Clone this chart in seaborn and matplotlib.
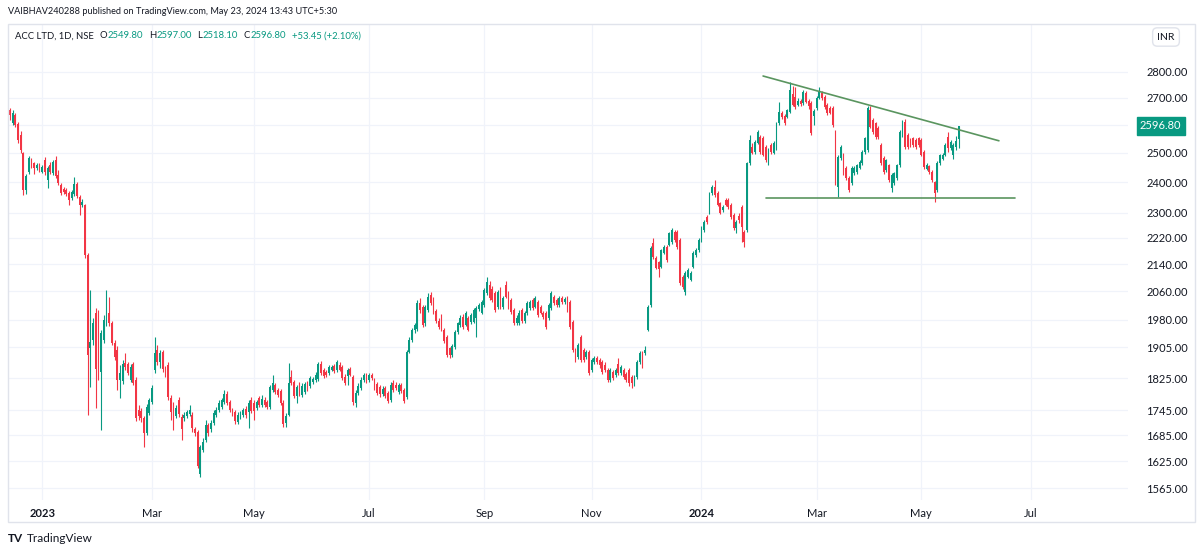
import numpy as np
import pandas as pd
import matplotlib
matplotlib.use("Agg")
import matplotlib.pyplot as plt
import seaborn as sns
from matplotlib import transforms, font_manager
from matplotlib.patches import Rectangle
from matplotlib.ticker import FixedLocator, FixedFormatter, NullLocator

# ---------------- data ----------------
holidays = ['2023-01-26', '2023-03-07', '2023-03-30', '2023-04-04', '2023-04-07', '2023-04-14',
            '2023-05-01', '2023-06-28', '2023-08-15', '2023-09-19', '2023-10-02', '2023-10-24',
            '2023-11-14', '2023-11-27', '2023-12-25', '2024-01-22', '2024-01-26', '2024-03-08',
            '2024-03-25', '2024-03-29', '2024-04-11', '2024-04-17', '2024-05-01', '2024-05-20']
special_sessions = ['2023-11-12', '2024-01-20', '2024-03-02']

opens = [
    2655, 2607, 2636, 2604, 2564, 2500, 2374, 2434, 2476, 2465,
    2448, 2458, 2434, 2476, 2408, 2458, 2431, 2476, 2424, 2391,
    2377, 2374, 2364, 2347, 2361, 2394, 2351, 2325, 2325, 2168,
    1903, 1925, 1999, 2002, 1840, 1925, 1971, 1999, 1971, 1917,
    1898, 1820, 1817, 1864, 1861, 1820, 1861, 1820, 1745, 1742,
    1726, 1690, 1738, 1765, 1845, 1898, 1866, 1893, 1848, 1858,
    1775, 1760, 1730, 1770, 1728, 1726, 1730, 1735, 1733, 1699,
    1692, 1596, 1650, 1673, 1709, 1699, 1714, 1733, 1745, 1752,
    1765, 1785, 1765, 1745, 1740, 1716, 1728, 1733, 1747, 1740,
    1770, 1762, 1750, 1775, 1757, 1770, 1765, 1752, 1795, 1807,
    1795, 1792, 1762, 1714, 1733, 1828, 1815, 1780, 1802, 1782,
    1790, 1810, 1805, 1815, 1820, 1823, 1861, 1845, 1840, 1838,
    1845, 1856, 1845, 1858, 1853, 1828, 1830, 1848, 1828, 1762,
    1787, 1800, 1820, 1833, 1820, 1833, 1820, 1810, 1802, 1785,
    1800, 1787, 1770, 1812, 1807, 1790, 1807, 1795, 1777, 1893,
    1924, 1951, 1955, 2027, 2016, 1970, 2008, 2050, 2038, 2005,
    1976, 1990, 1952, 1933, 1903, 1885, 1906, 1946, 1966, 1988,
    1966, 1985, 1974, 1974, 1985, 2010, 1999, 2021, 2055, 2080,
    2067, 2055, 2016, 2067, 2016, 2078, 2055, 2035, 2007, 1971,
    1971, 2007, 1976, 1999, 2013, 2035, 2016, 2030, 2016, 1999,
    1999, 1985, 2013, 2044, 2035, 2021, 2041, 2030, 2041, 2030,
    1974, 1898, 1880, 1933, 1898, 1880, 1893, 1845, 1866, 1877,
    1871, 1866, 1858, 1845, 1820, 1840, 1833, 1861, 1838, 1845,
    1835, 1845, 1828, 1812, 1828, 1866, 1890, 1890, 1952, 2020,
    2205, 2160, 2147, 2132, 2175, 2192, 2198, 2207, 2239, 2239,
    2214, 2102, 2058, 2102, 2094, 2132, 2168, 2183, 2214, 2245,
    2286, 2299, 2364, 2384, 2364, 2331, 2308, 2341, 2341, 2325,
    2292, 2251, 2290, 2318, 2239, 2245, 2466, 2521, 2504, 2536,
    2557, 2553, 2521, 2475, 2528, 2500, 2518, 2607, 2644, 2633,
    2629, 2648, 2715, 2704, 2675, 2688, 2680, 2720, 2688, 2680,
    2633, 2662, 2700, 2720, 2705, 2675, 2662, 2662, 2575, 2384,
    2482, 2493, 2448, 2414, 2397, 2431, 2434, 2448, 2466, 2504,
    2510, 2655, 2618, 2607, 2590, 2528, 2482, 2441, 2458, 2380,
    2397, 2414, 2458, 2565, 2611, 2564, 2546, 2553, 2546, 2553,
    2546, 2504, 2445, 2455, 2434, 2401, 2374, 2466, 2480, 2493,
    2557, 2518, 2493, 2520, 2549.80]
highs = [
    2662, 2655, 2644, 2611, 2579, 2504, 2428, 2490, 2483, 2469,
    2465, 2465, 2458, 2486, 2455, 2469, 2476, 2490, 2441, 2398,
    2384, 2381, 2371, 2374, 2418, 2401, 2357, 2344, 2328, 2174,
    2064, 1985, 2013, 2007, 1952, 1993, 2064, 2044, 1977, 1925,
    1909, 1858, 1872, 1890, 1866, 1861, 1866, 1828, 1757, 1750,
    1730, 1760, 1775, 1807, 1933, 1911, 1898, 1898, 1856, 1866,
    1782, 1765, 1757, 1777, 1735, 1740, 1745, 1757, 1740, 1704,
    1697, 1662, 1678, 1721, 1714, 1721, 1745, 1752, 1770, 1775,
    1795, 1792, 1770, 1750, 1745, 1740, 1742, 1750, 1755, 1770,
    1777, 1770, 1770, 1780, 1782, 1777, 1770, 1807, 1833, 1812,
    1800, 1797, 1770, 1738, 1864, 1845, 1820, 1807, 1815, 1812,
    1815, 1817, 1830, 1828, 1840, 1866, 1869, 1850, 1845, 1858,
    1858, 1861, 1872, 1866, 1858, 1835, 1850, 1853, 1833, 1795,
    1812, 1828, 1838, 1838, 1838, 1838, 1825, 1815, 1807, 1805,
    1805, 1792, 1815, 1820, 1815, 1812, 1812, 1800, 1898, 1933,
    1958, 1972, 2035, 2040, 2020, 2022, 2055, 2058, 2044, 2010,
    1985, 1995, 1958, 1938, 1906, 1915, 1952, 1975, 1992, 1995,
    2005, 1990, 1998, 2012, 2018, 2028, 2035, 2070, 2102, 2090,
    2075, 2060, 2064, 2072, 2048, 2090, 2060, 2040, 2012, 1992,
    2006, 2012, 2004, 2032, 2035, 2040, 2046, 2035, 2022, 2004,
    2004, 2026, 2060, 2050, 2040, 2046, 2046, 2044, 2046, 2035,
    1978, 1903, 1916, 1938, 1903, 1898, 1898, 1876, 1882, 1882,
    1876, 1871, 1866, 1850, 1850, 1845, 1850, 1877, 1858, 1850,
    1840, 1850, 1832, 1833, 1872, 1895, 1896, 1910, 2020, 2195,
    2220, 2165, 2150, 2186, 2198, 2198, 2240, 2252, 2245, 2245,
    2220, 2108, 2120, 2128, 2120, 2180, 2190, 2220, 2256, 2276,
    2292, 2368, 2390, 2408, 2370, 2336, 2325, 2346, 2346, 2330,
    2298, 2276, 2300, 2325, 2245, 2470, 2564, 2535, 2545, 2580,
    2562, 2560, 2528, 2516, 2535, 2541, 2612, 2685, 2650, 2640,
    2660, 2760, 2745, 2740, 2700, 2695, 2730, 2728, 2695, 2690,
    2660, 2706, 2740, 2728, 2712, 2682, 2668, 2668, 2580, 2492,
    2528, 2500, 2455, 2420, 2455, 2455, 2463, 2475, 2510, 2558,
    2668, 2668, 2625, 2612, 2596, 2535, 2488, 2480, 2463, 2430,
    2436, 2463, 2580, 2618, 2622, 2570, 2552, 2558, 2552, 2558,
    2552, 2510, 2465, 2460, 2440, 2405, 2472, 2498, 2500, 2535,
    2575, 2545, 2535, 2560, 2597.00]
lows = [
    2618, 2600, 2593, 2535, 2500, 2357, 2361, 2428, 2448, 2428,
    2441, 2434, 2431, 2424, 2381, 2428, 2424, 2414, 2391, 2357,
    2361, 2354, 2325, 2341, 2354, 2347, 2292, 2318, 2159, 1733,
    1802, 1911, 1750, 1820, 1697, 1917, 1963, 1963, 1911, 1872,
    1795, 1775, 1810, 1845, 1833, 1815, 1807, 1718, 1721, 1716,
    1657, 1685, 1733, 1760, 1838, 1858, 1850, 1840, 1828, 1770,
    1721, 1697, 1726, 1728, 1673, 1718, 1726, 1730, 1692, 1683,
    1609, 1589, 1646, 1669, 1683, 1692, 1709, 1728, 1740, 1747,
    1760, 1757, 1740, 1730, 1711, 1711, 1723, 1728, 1726, 1701,
    1738, 1721, 1745, 1752, 1752, 1752, 1747, 1747, 1790, 1785,
    1777, 1757, 1704, 1704, 1730, 1807, 1775, 1762, 1780, 1777,
    1785, 1792, 1800, 1810, 1815, 1817, 1833, 1825, 1828, 1833,
    1843, 1838, 1840, 1843, 1820, 1807, 1807, 1830, 1757, 1752,
    1782, 1795, 1815, 1812, 1815, 1820, 1795, 1782, 1777, 1780,
    1775, 1762, 1765, 1790, 1795, 1785, 1787, 1762, 1772, 1890,
    1920, 1945, 1950, 2000, 1960, 1962, 2003, 2022, 1995, 1970,
    1955, 1948, 1918, 1880, 1878, 1880, 1900, 1940, 1960, 1955,
    1962, 1948, 1968, 1970, 1933, 2005, 1995, 2016, 2050, 2035,
    2030, 2003, 2010, 2010, 2010, 2040, 2010, 1996, 1966, 1965,
    1966, 1972, 1972, 1994, 2008, 2008, 2012, 1988, 1995, 1982,
    1955, 1980, 2008, 2022, 2016, 2016, 2025, 2024, 2003, 1955,
    1893, 1866, 1875, 1866, 1866, 1875, 1832, 1840, 1860, 1860,
    1852, 1835, 1840, 1815, 1815, 1820, 1828, 1833, 1832, 1822,
    1815, 1806, 1800, 1806, 1822, 1860, 1850, 1885, 1948, 2016,
    2155, 2125, 2102, 2128, 2170, 2148, 2194, 2202, 2208, 2186,
    2078, 2068, 2050, 2098, 2090, 2128, 2163, 2178, 2208, 2240,
    2265, 2294, 2358, 2350, 2320, 2294, 2302, 2320, 2312, 2280,
    2245, 2235, 2268, 2207, 2192, 2240, 2460, 2495, 2498, 2530,
    2498, 2488, 2468, 2460, 2498, 2495, 2512, 2600, 2622, 2600,
    2624, 2642, 2670, 2660, 2668, 2670, 2675, 2680, 2660, 2565,
    2600, 2655, 2695, 2694, 2660, 2638, 2640, 2594, 2390, 2350,
    2475, 2425, 2408, 2368, 2390, 2425, 2428, 2443, 2460, 2498,
    2505, 2588, 2568, 2550, 2550, 2460, 2428, 2436, 2400, 2367,
    2392, 2408, 2452, 2558, 2515, 2515, 2522, 2522, 2515, 2522,
    2488, 2446, 2440, 2428, 2400, 2334, 2368, 2460, 2475, 2488,
    2505, 2510, 2480, 2512, 2518.10]
closes = [
    2636, 2644, 2600, 2546, 2511, 2374, 2421, 2483, 2458, 2448,
    2458, 2441, 2452, 2434, 2448, 2434, 2469, 2421, 2398, 2364,
    2367, 2361, 2341, 2367, 2394, 2354, 2325, 2334, 2168, 1885,
    1919, 1971, 1848, 1840, 1944, 1979, 1999, 1971, 1917, 1880,
    1820, 1838, 1861, 1853, 1838, 1853, 1812, 1726, 1730, 1726,
    1690, 1752, 1770, 1800, 1890, 1866, 1890, 1848, 1835, 1777,
    1740, 1738, 1750, 1735, 1699, 1733, 1740, 1745, 1701, 1690,
    1613, 1657, 1669, 1709, 1690, 1714, 1738, 1745, 1762, 1770,
    1785, 1762, 1745, 1738, 1718, 1733, 1738, 1745, 1733, 1762,
    1742, 1742, 1765, 1757, 1772, 1757, 1752, 1802, 1812, 1790,
    1782, 1762, 1711, 1730, 1812, 1812, 1780, 1802, 1787, 1805,
    1810, 1800, 1825, 1823, 1833, 1861, 1838, 1830, 1833, 1853,
    1853, 1843, 1866, 1845, 1825, 1812, 1845, 1833, 1765, 1787,
    1805, 1820, 1833, 1817, 1833, 1825, 1800, 1787, 1785, 1797,
    1780, 1767, 1807, 1795, 1800, 1807, 1792, 1767, 1893, 1924,
    1951, 1965, 2027, 2008, 1966, 2016, 2044, 2027, 1999, 1976,
    1960, 1952, 1922, 1885, 1885, 1910, 1946, 1970, 1985, 1960,
    1999, 1952, 1993, 2007, 2013, 2020, 2030, 2064, 2087, 2041,
    2035, 2008, 2058, 2016, 2040, 2044, 2016, 2002, 1971, 1985,
    2000, 1976, 1999, 2027, 2030, 2013, 2041, 1993, 1999, 1988,
    1960, 2021, 2055, 2027, 2021, 2041, 2030, 2038, 2008, 1960,
    1898, 1872, 1911, 1872, 1872, 1893, 1838, 1871, 1877, 1866,
    1858, 1840, 1845, 1820, 1845, 1825, 1845, 1838, 1853, 1828,
    1820, 1812, 1812, 1828, 1866, 1890, 1878, 1898, 2016, 2190,
    2162, 2130, 2125, 2182, 2192, 2153, 2236, 2245, 2214, 2192,
    2084, 2073, 2115, 2122, 2115, 2174, 2183, 2214, 2251, 2270,
    2270, 2364, 2384, 2357, 2325, 2299, 2318, 2325, 2318, 2286,
    2251, 2270, 2275, 2254, 2207, 2466, 2546, 2500, 2539, 2575,
    2504, 2493, 2475, 2511, 2504, 2536, 2607, 2648, 2629, 2607,
    2655, 2730, 2675, 2666, 2688, 2678, 2723, 2685, 2668, 2572,
    2650, 2700, 2725, 2700, 2666, 2645, 2645, 2600, 2397, 2486,
    2521, 2431, 2414, 2374, 2448, 2448, 2458, 2469, 2504, 2553,
    2662, 2593, 2575, 2557, 2557, 2466, 2434, 2475, 2407, 2424,
    2431, 2458, 2575, 2611, 2521, 2521, 2528, 2528, 2521, 2528,
    2493, 2452, 2458, 2434, 2407, 2364, 2466, 2493, 2493, 2528,
    2518, 2539, 2528, 2543.35, 2596.80]

# price axis ticks
price_ticks = [1565, 1625, 1685, 1745, 1825, 1905, 1980, 2060, 2140, 2220,
               2300, 2400, 2500, 2600, 2700, 2800]
hidden_tick = 2600  # covered by the last-price label

# drawn trend lines (bar index, price)
resist_x = [281, 369]
resist_y = [2784, 2543]
support_x = [282, 375]
support_y = [2347, 2347]

last_price = 2596.80
header = "VAIBHAV240288 published on TradingView.com, May 23, 2024 13:43 UTC+5:30"
legend_parts = [("ACC LTD, 1D, NSE", "#131722"),
                ("O", "#131722"), ("2549.80", "#089981"),
                ("H", "#131722"), ("2597.00", "#089981"),
                ("L", "#131722"), ("2518.10", "#089981"),
                ("C", "#131722"), ("2596.80", "#089981"),
                ("+53.45 (+2.10%)", "#089981")]
legend_gaps = [0, 6, 0, 6, 0, 6, 0, 6, 0, 6]  # pixel gaps before each piece

# ---------------- calendar ----------------
dates = pd.bdate_range("2022-12-15", "2024-05-23")
dates = dates.drop(pd.to_datetime(holidays))
dates = dates.union(pd.to_datetime(special_sessions)).sort_values()
n = min(len(dates), len(closes), len(opens), len(highs), len(lows))
dates = dates[:n]
o = np.array(opens[:n], float)
h = np.array(highs[:n], float)
l = np.array(lows[:n], float)
c = np.array(closes[:n], float)
x = np.arange(n)

future = pd.bdate_range(dates[-1] + pd.Timedelta(days=1), periods=90)
all_dates = list(dates) + list(future)

tick_pos, tick_lab = [], []
prev = None
for i, d in enumerate(all_dates):
    key = (d.year, d.month)
    if key != prev:
        if prev is not None and d.month in (1, 3, 5, 7, 9, 11):
            tick_pos.append(i)
            tick_lab.append(str(d.year) if d.month == 1 else d.strftime("%b"))
        prev = key

# ---------------- style ----------------
sns.set_theme(style="white")
plt.rcParams['font.family'] = ['Lato', 'DejaVu Sans']

installed = {f.name for f in font_manager.fontManager.ttflist}
if "Liberation Sans Narrow" in installed:
    head_family, head_size = ["Liberation Sans Narrow", "Lato"], 8.2
else:
    head_family, head_size = ["Lato", "DejaVu Sans"], 6.6

UP, DOWN = "#089981", "#f23645"
TXT = "#131722"
GRID = "#f0f3fa"

W, H = 1200, 553
fig = plt.figure(figsize=(W / 100, H / 100), dpi=100)
fig.patch.set_facecolor("white")

def fx(px):
    return px / W

def fy(py):
    return 1 - py / H

AX_L, AX_R, AX_T, AX_B = 8, 1128, 24, 500
ax = fig.add_axes([fx(AX_L), fy(AX_B), (AX_R - AX_L) / W, (AX_B - AX_T) / H])
ax.set_facecolor("white")
ax.set_yscale("log")

px_per_bar = 2.68
x_left = (AX_L - 10) / px_per_bar
x_right = x_left + (AX_R - AX_L) / px_per_bar

# grid
for v in price_ticks:
    ax.axhline(v, color=GRID, lw=0.9, zorder=0)
for p in tick_pos:
    if x_left < p < x_right:
        ax.axvline(p, color=GRID, lw=0.9, zorder=0)

# candles
up = c >= o
colors = np.where(up, UP, DOWN)
ax.vlines(x, l, h, colors=colors, linewidth=0.8, zorder=2)
body_lo = np.minimum(o, c)
body_hi = np.maximum(o, c)
body_hi = np.maximum(body_hi, body_lo * 1.0008)
ax.bar(x, body_hi - body_lo, bottom=body_lo, width=0.68, color=colors,
       linewidth=0, zorder=3)

# trend lines
tl = pd.DataFrame({"x": resist_x + support_x,
                   "y": resist_y + support_y,
                   "line": ["resistance"] * 2 + ["support"] * 2})
sns.lineplot(data=tl, x="x", y="y", units="line", estimator=None, ax=ax,
             color="#5a955f", linewidth=1.2, legend=False, zorder=4)
ax.set_xlabel("")
ax.set_ylabel("")

# limits (after all drawing so nothing rescales them)
ax.set_xlim(x_left, x_right)
ax.set_ylim(1539, 2994)

# axes ticks
ax.yaxis.tick_right()
ax.yaxis.set_major_locator(FixedLocator(price_ticks))
ax.yaxis.set_major_formatter(FixedFormatter(
    ["" if v == hidden_tick else f"{v:.2f}" for v in price_ticks]))
ax.yaxis.set_minor_locator(NullLocator())
ax.tick_params(axis="y", length=0, pad=13, labelsize=8, labelcolor=TXT)

vis = [(p, t) for p, t in zip(tick_pos, tick_lab) if x_left < p < x_right - 8]
ax.set_xticks([p for p, _ in vis])
ax.set_xticklabels([t for _, t in vis])
ax.tick_params(axis="x", length=0, pad=6, labelsize=8, labelcolor=TXT)
for lbl in ax.get_xticklabels():
    if lbl.get_text().isdigit():
        lbl.set_fontweight("bold")

for s in ax.spines.values():
    s.set_visible(False)

# last price label
trans = transforms.blended_transform_factory(ax.transAxes, ax.transData)
ax.text((1140 - AX_L) / (AX_R - AX_L), last_price, f"{last_price:.2f}",
        transform=trans, ha="left", va="center", fontsize=8, color="white",
        clip_on=False,
        bbox=dict(boxstyle="square,pad=0.3", facecolor=UP, edgecolor=UP))

# outer frame
fig.add_artist(Rectangle((fx(8), fy(522)), (1195 - 8) / W, (522 - 24) / H,
                         transform=fig.transFigure, fill=False,
                         edgecolor="#e0e3eb", linewidth=1))

# INR box
fig.text(fx(1166), fy(37), "INR", ha="center", va="center", fontsize=7.5,
         color=TXT,
         bbox=dict(boxstyle="round,pad=0.45", facecolor="white",
                   edgecolor="#e0e3eb"))

# header
fig.text(fx(8), fy(12), header, ha="left", va="center", fontsize=head_size,
         color=TXT, family=head_family)

# legend row: pieces chained one after another
fig.canvas.draw()
renderer = fig.canvas.get_renderer()
cur = 15
for (txt, col), gap in zip(legend_parts, legend_gaps):
    cur += gap
    t = fig.text(fx(cur), fy(36), txt, ha="left", va="center", fontsize=6.8,
                 color=col)
    bb = t.get_window_extent(renderer=renderer)
    cur += bb.width

# footer
fig.text(fx(8), fy(539), "TV", ha="left", va="center", fontsize=8.5,
         fontweight="bold", color=TXT)
fig.text(fx(27), fy(539), "TradingView", ha="left", va="center", fontsize=8.5,
         color=TXT)

fig.savefig("out.png", dpi=100, facecolor="white")
